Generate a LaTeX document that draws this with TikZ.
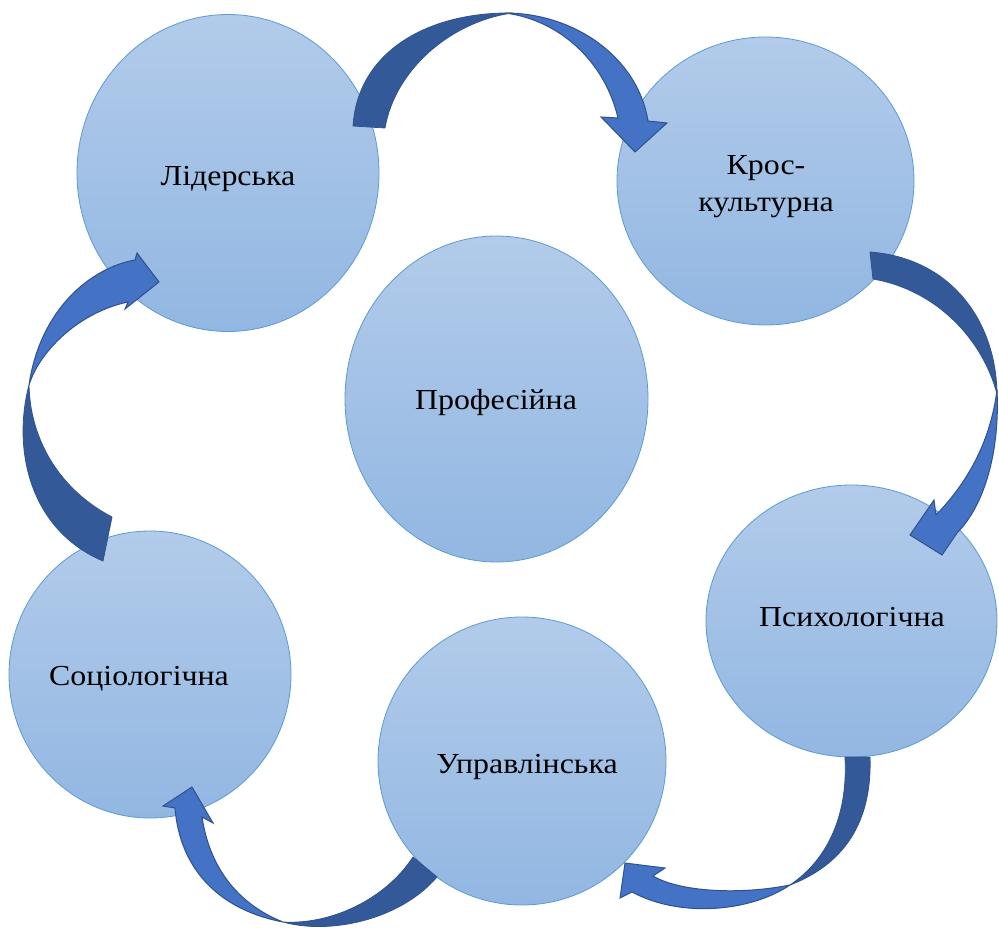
\documentclass[tikz,border=0pt]{standalone}
\usepackage{fontspec}
\setmainfont{Liberation Serif}[FakeStretch=1.1]
\usetikzlibrary{shapes.geometric}
\definecolor{ctop}{RGB}{178,203,234}
\definecolor{cbot}{RGB}{146,183,226}
\definecolor{cedge}{RGB}{91,155,213}
\definecolor{adark}{RGB}{52,89,152}
\definecolor{alight}{RGB}{68,114,196}
\definecolor{aedge}{RGB}{47,82,143}
\begin{document}
\begin{tikzpicture}[x=1pt,y=-1pt,
  bubble/.style={ellipse, draw=cedge, line width=0.8pt, top color=ctop, bottom color=cbot, inner sep=0pt},
  lbl/.style={anchor=base, font=\fontsize{29}{37}\selectfont, inner sep=0pt},
  darkpart/.style={fill=adark, draw=aedge, line width=0.8pt, line join=round},
  lightpart/.style={fill=alight, draw=aedge, line width=1pt, line join=miter}]
\useasboundingbox (0,0) rectangle (999,928);
\fill[white] (0,0) rectangle (999,928);

% circles
\node[bubble, minimum width=302pt, minimum height=317pt] (lid) at (228,173) {};
\node[bubble, minimum width=297pt, minimum height=288pt] (kros) at (765.5,181) {};
\node[bubble, minimum width=303pt, minimum height=326pt] (prof) at (496.5,399) {};
\node[bubble, minimum width=291pt, minimum height=272pt] (psy) at (851.5,621) {};
\node[bubble, minimum width=282pt, minimum height=287pt] (soc) at (150,674.5) {};
\node[bubble, minimum width=288pt, minimum height=288pt] (upr) at (522,761) {};

% arrow 1: top
\path[darkpart] (353,126) .. controls (358,50) and (430,12) .. (512,13) .. controls (450,22) and (395,70) .. (385,128) -- cycle;
\path[lightpart] (505,13) .. controls (575,13) and (638,58) .. (648,121) -- (667,123) -- (635,152) -- (601,117) -- (618,118) .. controls (605,62) and (560,20) .. (505,13) -- cycle;

% arrow 2: right
\path[darkpart] (870,252) .. controls (950,258) and (996,320) .. (997,394) .. controls (983,340) and (937,290) .. (873,279) -- cycle;
\path[lightpart] (997,390) .. controls (1000,450) and (985,505) .. (957,533) -- (942,555) -- (910,535) -- (934,500) -- (936,515) .. controls (965,485) and (990,445) .. (997,390) -- cycle;

% arrow 3: bottom right
\path[darkpart] (845,757) -- (870,757) .. controls (872,815) and (850,862) .. (790,885) .. controls (830,858) and (848,812) .. (845,757) -- cycle;
\path[lightpart] (790,885) .. controls (750,912) and (680,918) .. (632,892) -- (620,898) -- (625,863) -- (665,868) -- (653,876) .. controls (680,892) and (740,895) .. (790,885) -- cycle;

% arrow 4: bottom left
\path[darkpart] (437,877) .. controls (400,920) and (330,935) .. (283,922) .. controls (330,925) and (385,900) .. (413,857) -- cycle;
\path[lightpart] (283,922) .. controls (220,910) and (180,870) .. (175,808) -- (163,806) -- (192,787) -- (213,823) -- (202,817) .. controls (210,870) and (240,905) .. (283,922) -- cycle;

% arrow 5: left
\path[darkpart] (103,561) .. controls (30,530) and (12,450) .. (29,385) .. controls (30,440) and (60,490) .. (112,517) -- cycle;
\path[lightpart] (29,385) .. controls (40,310) and (90,268) .. (135,260) -- (137,253) -- (159,282) -- (125,309) -- (128,302) .. controls (80,312) and (40,350) .. (29,385) -- cycle;

% labels
\node[lbl] (tlid) at (228,186) {Лідерська};
\node[lbl] (tkros1) at (766,175) {Крос-};
\node[lbl] (tkros2) at (766,212) {культурна};
\node[lbl] (tprof) at (496,409) {Професійна};
\node[lbl] (tpsy) at (852,626) {Психологічна};
\node[lbl] (tsoc) at (139,685) {Соціологічна};
\node[lbl] (tupr) at (527,773) {Управлінська};
\end{tikzpicture}
\end{document}
